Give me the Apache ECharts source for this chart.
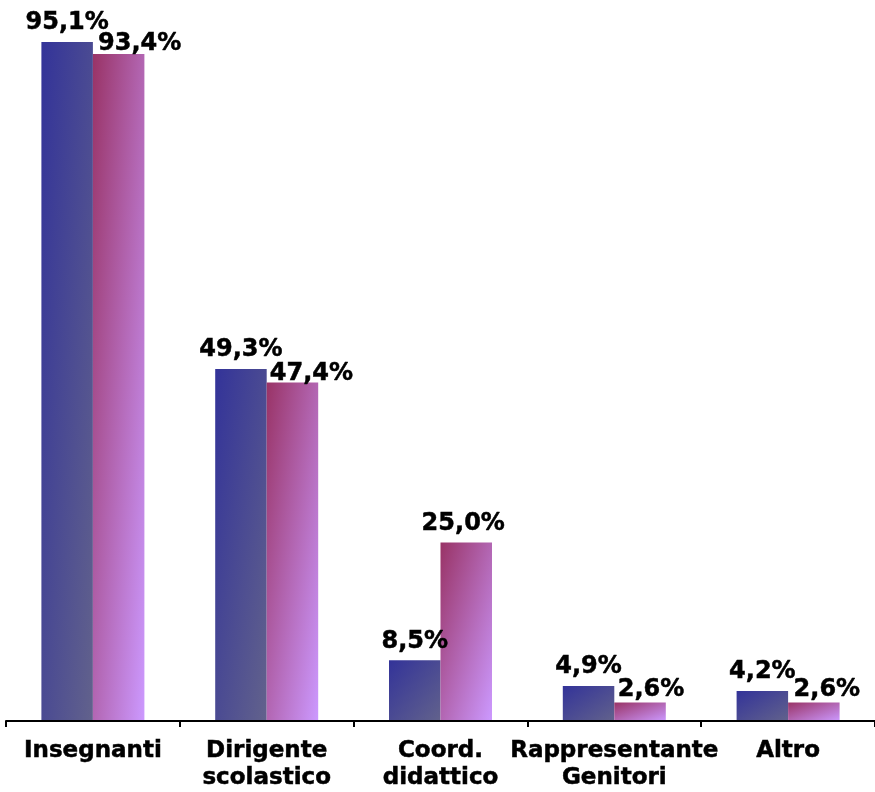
<!DOCTYPE html>
<html>
<head>
<meta charset="utf-8">
<script src="https://cdn.jsdelivr.net/npm/echarts@6/dist/echarts.min.js"></script>
<style>html,body{margin:0;padding:0;background:#fff}#c{width:875px;height:792px}</style>
</head>
<body>
<div id="c"></div>
<script>
const categories = ['Insegnanti', 'Dirigente\nscolastico', 'Coord.\ndidattico', 'Rappresentante\nGenitori', 'Altro'];
const seriesA = [95.1, 49.3, 8.5, 4.9, 4.2];
const seriesB = [93.4, 47.4, 25.0, 2.6, 2.6];

// label nudges (styling only)
const shiftA = [[0, 0], [0, 0], [0, 0], [0, 0], [0, 0]];
const shiftB = [[21, 9], [19, 10], [-3, 0], [11, 6], [13, 6]];

const fmt = v => v.toFixed(1).replace('.', ',') + '%';
const FONT = 'DejaVu Sans';
const BAR_W = 51.5;
const COLS_A = ['#333399', '#62628c'];
const COLS_B = ['#993366', '#cc99ff'];

// gradient whose isolines run along the bar's anti-diagonal (bbox-normalised)
function grad(cols, w, h) {
  const d = h * h + w * w;
  const x2 = d > 0 ? 2 * h * h / d : 1;
  const y2 = d > 0 ? 2 * w * w / d : 1;
  return new echarts.graphic.LinearGradient(0, 0, x2, y2, [
    { offset: 0, color: cols[0] }, { offset: 1, color: cols[1] }
  ]);
}

const chart = echarts.init(document.getElementById('c'), null, { renderer: 'canvas' });

function build(vals, shifts, cols, sIdx) {
  return vals.map((v, i) => {
    let h = 100;
    try {
      const top = chart.convertToPixel({ seriesIndex: sIdx }, [i, v]);
      const bot = chart.convertToPixel({ seriesIndex: sIdx }, [i, 0]);
      h = Math.abs(bot[1] - top[1]);
    } catch (e) {}
    return { value: v, label: { offset: shifts[i] }, itemStyle: { color: grad(cols, BAR_W, h) } };
  });
}

const labelCfg = {
  show: true, position: 'top', distance: 7, formatter: p => fmt(p.value),
  color: '#000', fontFamily: FONT, fontWeight: 'bold', fontSize: 24,
  textBorderColor: '#000', textBorderWidth: 0.5
};

chart.setOption({
  animation: false,
  grid: { left: 6, right: -5, top: 7, bottom: 69, containLabel: false },
  xAxis: {
    type: 'category',
    data: categories,
    axisLine: { show: true, lineStyle: { color: '#000', width: 2 } },
    axisTick: { show: true, length: 6, lineStyle: { color: '#000', width: 2 } },
    axisLabel: {
      color: '#000', fontFamily: FONT, fontWeight: 'bold', fontSize: 23,
      lineHeight: 27, margin: 17, interval: 0,
      textBorderColor: '#000', textBorderWidth: 0.5
    },
    z: 10
  },
  yAxis: { type: 'value', min: 0, max: 100, show: false },
  series: [
    { type: 'bar', data: seriesA.slice(), barWidth: BAR_W, barGap: '0%', label: labelCfg },
    { type: 'bar', data: seriesB.slice(), barWidth: BAR_W, barGap: '0%', label: labelCfg }
  ]
});

chart.setOption({
  series: [
    { data: build(seriesA, shiftA, COLS_A, 0) },
    { data: build(seriesB, shiftB, COLS_B, 1) }
  ]
});
</script>
</body>
</html>
